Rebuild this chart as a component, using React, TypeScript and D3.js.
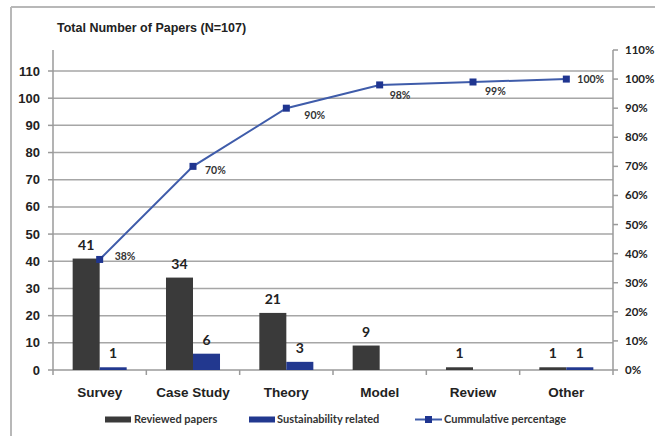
import React from "react";
import * as d3 from "d3";

const categories = ["Survey", "Case Study", "Theory", "Model", "Review", "Other"];
const reviewedPapers = [41, 34, 21, 9, 1, 1];
const sustainabilityRelated = [1, 6, 3, 0, 0, 1];
const cumulativePct = [38, 70, 90, 98, 99, 100];
const leftTicks = [0, 10, 20, 30, 40, 50, 60, 70, 80, 90, 100, 110];
const rightTicks = [0, 10, 20, 30, 40, 50, 60, 70, 80, 90, 100, 110];
const seriesNames = ["Reviewed papers", "Sustainability related", "Cummulative percentage"];
const titleText = "Total Number of Papers (N=107)";

// label offsets for percentage labels (style)
const pctLabelOffsets: [number, number][] = [
  [15, -3],
  [12, 4],
  [18, 7],
  [10, 10],
  [12, 9],
  [11, 0],
];

const W = 655;
const H = 436;
const left = 53;
const right = 613;
const bottom = 370;

const DARK = "#3a3a3a";
const BLUE = "#22388f";
const LINE = "#3f5caa";
const MARK = "#1f3590";
const GRID = "#a6a6a6";
const AXIS = "#9a9a9a";
const LABEL_FONT = "Lato, 'Open Sans', sans-serif";
const ARIAL = "'Liberation Sans', Arial, sans-serif";

export default function App() {
  const x0 = d3.scaleBand<string>().domain(categories).range([left, right]).padding(0);
  const x1 = d3
    .scaleBand<string>()
    .domain(["reviewed", "sust"])
    .range([0, x0.bandwidth()])
    .paddingInner(0)
    .paddingOuter(0.728);
  const yL = d3.scaleLinear().domain([0, 110]).range([bottom, 71]);
  const yR = d3.scaleLinear().domain([0, 110]).range([bottom, 50]);

  const cx = (c: string) => (x0(c) as number) + x0.bandwidth() / 2;
  const linePath = d3
    .line<number>()
    .x((_, i) => cx(categories[i]))
    .y((d) => yR(d))(cumulativePct) as string;

  const bw = x1.bandwidth();

  return (
    <svg
      width={W}
      height={H}
      style={{ position: "absolute", left: 0, top: 0, background: "#fff" }}
    >
      {/* outer frame */}
      <line x1={11} x2={W} y1={7} y2={7} stroke="#b8b8b8" strokeWidth={2} />
      <line x1={11} x2={11} y1={7} y2={H} stroke="#b8b8b8" strokeWidth={2} />

      {/* title */}
      <text x={57} y={32} fontFamily={ARIAL} fontWeight="bold" fontSize={12.5} fill="#222">
        {titleText}
      </text>

      {/* gridlines */}
      {leftTicks.slice(1).map((t) => (
        <line key={"g" + t} x1={left} x2={right} y1={yL(t)} y2={yL(t)} stroke={GRID} strokeWidth={1.5} />
      ))}

      {/* left axis */}
      <line x1={left} x2={left} y1={50} y2={bottom} stroke={AXIS} strokeWidth={1.5} />
      {leftTicks.map((t) => (
        <g key={"lt" + t}>
          <line x1={left - 5} x2={left} y1={yL(t)} y2={yL(t)} stroke={AXIS} strokeWidth={1.5} />
          <text
            x={40}
            y={yL(t)}
            dy="0.35em"
            textAnchor="end"
            fontFamily={ARIAL}
            fontWeight="bold"
            fontSize={13}
            fill="#222"
          >
            {t}
          </text>
        </g>
      ))}

      {/* right axis */}
      <line x1={right} x2={right} y1={50} y2={bottom} stroke={AXIS} strokeWidth={1.5} />
      {rightTicks.map((t) => (
        <g key={"rt" + t}>
          <line x1={right} x2={right + 5} y1={yR(t)} y2={yR(t)} stroke={AXIS} strokeWidth={1.5} />
          <text
            x={625}
            y={yR(t)}
            dy="0.35em"
            fontFamily={LABEL_FONT}
            fontWeight="bold"
            fontSize={11.5}
            fill="#222"
          >
            {t + "%"}
          </text>
        </g>
      ))}

      {/* bottom axis */}
      <line x1={left} x2={right} y1={bottom} y2={bottom} stroke={AXIS} strokeWidth={1.5} />
      {categories.map((c, i) => (
        <line
          key={"bt" + i}
          x1={x0(c) as number}
          x2={x0(c) as number}
          y1={bottom}
          y2={bottom + 5}
          stroke={AXIS}
          strokeWidth={1.5}
        />
      ))}
      <line x1={right} x2={right} y1={bottom} y2={bottom + 5} stroke={AXIS} strokeWidth={1.5} />

      {/* bars */}
      {categories.map((c, i) => {
        const bx = x0(c) as number;
        const rv = reviewedPapers[i];
        const sv = sustainabilityRelated[i];
        const rx = bx + (x1("reviewed") as number);
        const sx = bx + (x1("sust") as number);
        return (
          <g key={"b" + c}>
            {rv > 0 && (
              <>
                <rect x={rx} y={yL(rv)} width={bw} height={bottom - yL(rv)} fill={DARK} />
                <text
                  x={rx + bw / 2}
                  y={yL(rv) - 9}
                  textAnchor="middle"
                  fontFamily={LABEL_FONT}
                  fontWeight="bold"
                  fontSize={14}
                  fill="#222"
                >
                  {rv}
                </text>
              </>
            )}
            {sv > 0 && (
              <>
                <rect x={sx} y={yL(sv)} width={bw} height={bottom - yL(sv)} fill={BLUE} />
                <text
                  x={sx + bw / 2}
                  y={yL(sv) - 9}
                  textAnchor="middle"
                  fontFamily={LABEL_FONT}
                  fontWeight="bold"
                  fontSize={14}
                  fill="#222"
                >
                  {sv}
                </text>
              </>
            )}
            <text
              x={cx(c)}
              y={392}
              dy="0.35em"
              textAnchor="middle"
              fontFamily={ARIAL}
              fontWeight="bold"
              fontSize={13.5}
              fill="#222"
            >
              {c}
            </text>
          </g>
        );
      })}

      {/* cumulative line */}
      <path d={linePath} fill="none" stroke={LINE} strokeWidth={2} />
      {cumulativePct.map((p, i) => {
        const px = cx(categories[i]);
        const py = yR(p);
        return (
          <g key={"m" + i}>
            <rect x={px - 3.5} y={py - 3.5} width={7} height={7} fill={MARK} />
            <text
              x={px + pctLabelOffsets[i][0]}
              y={py + pctLabelOffsets[i][1]}
              dy="0.35em"
              fontFamily={LABEL_FONT}
              fontWeight="bold"
              fontSize={10.5}
              fill="#333"
            >
              {p + "%"}
            </text>
          </g>
        );
      })}

      {/* legend */}
      <g fontFamily={LABEL_FONT} fontWeight="bold" fontSize={11} fill="#333">
        <rect x={105} y={416.5} width={26} height={6} fill={DARK} />
        <text x={134} y={419.5} dy="0.35em">{seriesNames[0]}</text>
        <rect x={249} y={416.5} width={26} height={6} fill={BLUE} />
        <text x={277} y={419.5} dy="0.35em">{seriesNames[1]}</text>
        <line x1={415} x2={442} y1={419.5} y2={419.5} stroke={LINE} strokeWidth={2} />
        <rect x={425} y={416} width={7} height={7} fill={MARK} />
        <text x={444} y={419.5} dy="0.35em">{seriesNames[2]}</text>
      </g>
    </svg>
  );
}
